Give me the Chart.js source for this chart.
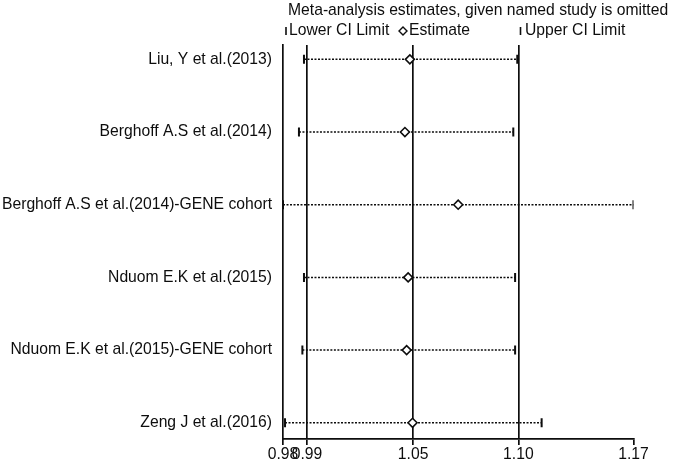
<!DOCTYPE html>
<html>
<head>
<meta charset="utf-8">
<script src="https://cdn.jsdelivr.net/npm/chart.js@4.4.1/dist/chart.umd.min.js"></script>
<style>
  html, body { margin: 0; padding: 0; background: #fff; }
  #wrap { width: 675px; height: 464px; }
</style>
</head>
<body>
<div id="wrap"><canvas id="chart" width="675" height="464"></canvas></div>
<script>
// --- Datos ---
const studies = [
  'Liu, Y et al.(2013)',
  'Berghoff A.S et al.(2014)',
  'Berghoff A.S et al.(2014)-GENE cohort',
  'Nduom E.K et al.(2015)',
  'Nduom E.K et al.(2015)-GENE cohort',
  'Zeng J et al.(2016)'
];
const lowerCI   = [0.9914, 0.9889, 0.981, 0.9914, 0.9906, 0.982];
const estimates = [1.0456, 1.0430, 1.0713, 1.0447, 1.0439, 1.0470];
const upperCI   = [1.1036, 1.1014, 1.170, 1.1024, 1.1024, 1.1172];

// ticks: min lower, overall lower, overall estimate, overall upper, max upper
const tickValues = [0.981, 0.9929, 1.0473, 1.1042, 1.170];
const tickLabels = ['0.98', '0.99', '1.05', '1.10', '1.17'];

const titleText = 'Meta-analysis estimates, given named study is omitted';
const legendLabels = ['Lower CI Limit', 'Estimate', 'Upper CI Limit'];

const INK = '#0d0d0d';
const FAMILY = '"Liberation Sans", Arial, sans-serif';
const SIZE = 15.7;
const FONT = SIZE + 'px ' + FAMILY;

// --- Titulo y leyenda (estilo Stata) ---
const headerPlugin = {
  id: 'header',
  afterDraw(chart) {
    const ctx = chart.ctx;
    const left = chart.chartArea.left;
    ctx.save();
    ctx.fillStyle = INK;
    ctx.strokeStyle = INK;
    ctx.font = FONT;
    ctx.textBaseline = 'middle';
    ctx.fillText(titleText, left + 5, 11);

    const y = 31;
    // lower
    ctx.lineWidth = 1.6;
    ctx.beginPath(); ctx.moveTo(left + 3, y - 4); ctx.lineTo(left + 3, y + 4); ctx.stroke();
    ctx.fillText(legendLabels[0], left + 6, y);
    // estimate
    const dx = left + 120;
    ctx.lineWidth = 1.4;
    ctx.beginPath();
    ctx.moveTo(dx, y - 4); ctx.lineTo(dx + 4, y); ctx.lineTo(dx, y + 4); ctx.lineTo(dx - 4, y); ctx.closePath();
    ctx.stroke();
    ctx.fillText(legendLabels[1], dx + 6, y);
    // upper
    const ux = left + 237.5;
    ctx.lineWidth = 1.6;
    ctx.beginPath(); ctx.moveTo(ux, y - 4); ctx.lineTo(ux, y + 4); ctx.stroke();
    ctx.fillText(legendLabels[2], ux + 4.5, y);
    ctx.restore();
  }
};

// --- Datasets ---
const rowLines = studies.map((s, i) => ({
  type: 'line',
  data: [{x: lowerCI[i], y: i}, {x: upperCI[i], y: i}],
  borderColor: INK,
  borderWidth: 1.5,
  borderDash: [2, 1.5],
  pointRadius: 0,
  fill: false
}));

const datasets = [
  {
    label: 'Estimate',
    data: studies.map((s, i) => ({x: estimates[i], y: i})),
    pointStyle: 'rectRot',
    pointRadius: 4.5,
    pointBorderWidth: 1.6,
    pointBackgroundColor: '#fff',
    pointBorderColor: INK
  },
  {
    label: 'Lower CI Limit',
    data: studies.map((s, i) => ({x: lowerCI[i], y: i})),
    pointStyle: 'line',
    rotation: 90,
    pointRadius: 4.5,
    pointBorderWidth: 2,
    pointBorderColor: INK
  },
  {
    label: 'Upper CI Limit',
    data: studies.map((s, i) => ({x: upperCI[i], y: i})),
    pointStyle: 'line',
    rotation: 90,
    pointRadius: 4.5,
    pointBorderWidth: 2,
    pointBorderColor: INK
  },
  ...rowLines
];

// --- Grafico ---
const ctx = document.getElementById('chart').getContext('2d');
const myChart = new Chart(ctx, {
  type: 'scatter',
  data: { datasets },
  plugins: [headerPlugin],
  options: {
    responsive: false,
    animation: false,
    events: [],
    layout: { padding: { top: 45, right: 41.5, left: 0, bottom: 0 } },
    plugins: { legend: { display: false }, tooltip: { enabled: false }, title: { display: false } },
    scales: {
      x: {
        type: 'logarithmic',
        position: 'bottom',
        min: tickValues[0],
        max: tickValues[tickValues.length - 1],
        bounds: 'data',
        afterBuildTicks: s => { s.ticks = tickValues.map(v => ({value: v})); },
        afterFit: s => { s.height = 25; },
        ticks: {
          autoSkip: false, maxRotation: 0, minRotation: 0, padding: 0,
          color: INK, font: { family: FAMILY, size: SIZE },
          callback: (v, i) => tickLabels[i]
        },
        grid: {
          color: c => (c.index === 0 || c.index === tickValues.length - 1) ? 'rgba(0,0,0,0)' : INK,
          tickColor: INK, lineWidth: 1.7, tickLength: 6
        },
        border: { display: true, color: INK, width: 1.7 }
      },
      y: {
        type: 'linear',
        reverse: true,
        min: -0.197,
        max: 5.223,
        afterBuildTicks: s => { s.ticks = studies.map((t, i) => ({value: i})); },
        afterFit: s => { s.width = 283; },
        ticks: {
          autoSkip: false, padding: 11,
          color: INK, font: { family: FAMILY, size: SIZE },
          callback: v => studies[v]
        },
        grid: { display: false, drawTicks: false },
        border: { display: true, color: INK, width: 1.7 }
      }
    }
  }
});
</script>
</body>
</html>
